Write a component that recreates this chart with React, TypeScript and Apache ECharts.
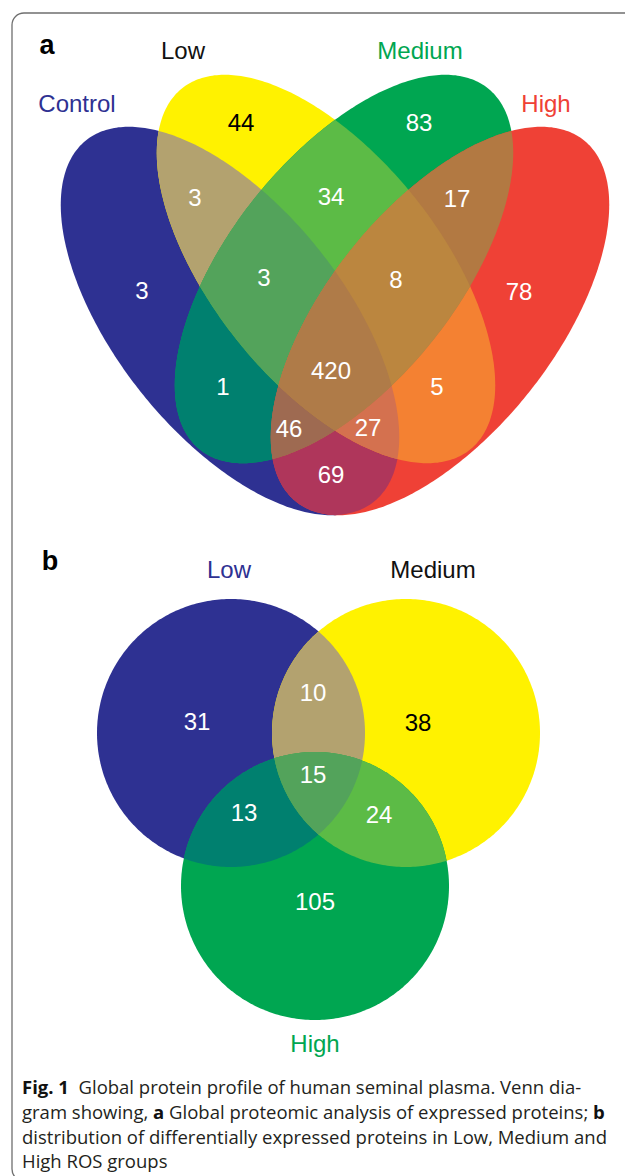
import React, { useEffect, useRef } from "react";
import * as echarts from "echarts";

// ---------- DATA ----------
// Panel a: four-set Venn
const setNamesA = ["Control", "Low", "Medium", "High"];
const regionKeysA = ["C", "L", "M", "H", "CL", "CM", "CH", "LM", "LH", "MH", "CLM", "CLH", "CMH", "LMH", "CLMH"];
const regionCountsA = [3, 44, 83, 78, 3, 1, 69, 34, 5, 17, 3, 27, 46, 8, 420];

// Panel b: three-set Venn
const setNamesB = ["Low", "Medium", "High"];
const regionKeysB = ["L", "M", "H", "LM", "LH", "MH", "LMH"];
const regionCountsB = [31, 38, 105, 10, 13, 24, 15];

const captionLines = [
  "{b|Fig. 1}  Global protein profile of human seminal plasma. Venn dia-",
  "gram showing, {b|a} Global proteomic analysis of expressed proteins; {b|b}",
  "distribution of differentially expressed proteins in Low, Medium and",
  "High ROS groups",
];

// ---------- STYLE / LAYOUT ----------
const regionColor: Record<string, string> = {
  C: "#2E3192", L: "#FFF200", M: "#00A651", H: "#EF4136",
  CL: "#B3A26F", CM: "#00806F", CH: "#AF365B", LM: "#5CBB46", LH: "#F48132", MH: "#B27942",
  CLM: "#53A35B", CLH: "#D4714F", CMH: "#9E6A51", LMH: "#BB863F", CLMH: "#AF7B48",
};
const regionColorB: Record<string, string> = {
  L: "#2E3192", M: "#FFF200", H: "#00A651",
  LM: "#B3A26F", LH: "#00806F", MH: "#5CBB46", LMH: "#53A35B",
};
// ellipses: cx, cy, a, b, rotation(deg)
const ellipsesA: Record<string, number[]> = {
  C: [230, 321, 231, 114, 51.5],
  L: [326, 269, 231, 114, 51.5],
  M: [344, 269, 231, 114, -51.5],
  H: [440, 321, 231, 114, -51.5],
};
const circlesB: Record<string, number[]> = {
  L: [231, 733, 134],
  M: [406, 733, 134],
  H: [315, 886, 134],
};
const labelPosA: Record<string, number[]> = {
  C: [142, 290], L: [241, 122], M: [419, 122], H: [519, 291],
  CL: [195, 197], CM: [223, 386], CH: [331, 474], LM: [331, 196], LH: [437, 386], MH: [457, 198],
  CLM: [264, 277], CLH: [368, 427], CMH: [289, 428], LMH: [396, 279], CLMH: [331, 370],
};
const labelDarkA: Record<string, boolean> = { L: true };
const labelPosB: Record<string, number[]> = {
  L: [197, 721], M: [418, 722], H: [315, 901], LM: [313, 692], LH: [244, 812], MH: [379, 814], LMH: [313, 774],
};
const labelDarkB: Record<string, boolean> = { M: true };
const setLabelA = [
  { x: 77, y: 103, color: "#2E3192" },
  { x: 183, y: 50, color: "#111111" },
  { x: 420, y: 50, color: "#00A651" },
  { x: 546, y: 103, color: "#EF4136" },
];
const setLabelB = [
  { x: 229, y: 569, color: "#2E3192" },
  { x: 433, y: 569, color: "#111111" },
  { x: 315, y: 1043, color: "#00A651" },
];

const FONT = "'Liberation Sans', Arial, sans-serif";

type Pt = number[];

function ellipsePts(cx: number, cy: number, a: number, b: number, deg: number, n = 360): Pt[] {
  const t = (deg * Math.PI) / 180;
  const pts: Pt[] = [];
  for (let i = 0; i < n; i++) {
    const p = (2 * Math.PI * i) / n;
    const x = a * Math.cos(p);
    const y = b * Math.sin(p);
    pts.push([cx + x * Math.cos(t) - y * Math.sin(t), cy + x * Math.sin(t) + y * Math.cos(t)]);
  }
  return pts;
}

function clipConvex(subject: Pt[], clipPoly: Pt[]): Pt[] {
  let area = 0;
  for (let i = 0; i < clipPoly.length; i++) {
    const p = clipPoly[i], q = clipPoly[(i + 1) % clipPoly.length];
    area += p[0] * q[1] - q[0] * p[1];
  }
  const s = Math.sign(area);
  let output = subject;
  for (let i = 0; i < clipPoly.length; i++) {
    if (!output.length) break;
    const A = clipPoly[i], B = clipPoly[(i + 1) % clipPoly.length];
    const side = (p: Pt) => s * ((B[0] - A[0]) * (p[1] - A[1]) - (B[1] - A[1]) * (p[0] - A[0]));
    const input = output;
    output = [];
    for (let j = 0; j < input.length; j++) {
      const cur = input[j];
      const prev = input[(j + input.length - 1) % input.length];
      const sc = side(cur), sp = side(prev);
      const inter = () => {
        const t = sp / (sp - sc);
        return [prev[0] + (cur[0] - prev[0]) * t, prev[1] + (cur[1] - prev[1]) * t];
      };
      if (sc >= 0) {
        if (sp < 0) output.push(inter());
        output.push(cur);
      } else if (sp >= 0) {
        output.push(inter());
      }
    }
  }
  return output;
}

function regionPolys(keys: string[], shapes: Record<string, Pt[]>, colors: Record<string, string>) {
  const order = keys.map((k, i) => ({ k, i })).sort((a, b) => a.k.length - b.k.length || a.i - b.i);
  return order.map(({ k }) => {
    const letters = k.split("");
    let poly = shapes[letters[0]];
    for (let i = 1; i < letters.length; i++) poly = clipConvex(poly, shapes[letters[i]]);
    return {
      type: "polygon",
      shape: { points: poly },
      style: { fill: colors[k], stroke: null },
      silent: true,
    };
  });
}

export default function App() {
  const ref = useRef<HTMLDivElement>(null);
  useEffect(() => {
    if (!ref.current) return;
    const chart = echarts.init(ref.current, undefined, { renderer: "svg" });

    const shapesA: Record<string, Pt[]> = {};
    Object.keys(ellipsesA).forEach((k) => {
      const e = ellipsesA[k];
      shapesA[k] = ellipsePts(e[0], e[1], e[2], e[3], e[4]);
    });
    const shapesB: Record<string, Pt[]> = {};
    Object.keys(circlesB).forEach((k) => {
      const c = circlesB[k];
      shapesB[k] = ellipsePts(c[0], c[1], c[2], c[2], 0);
    });

    const elements: any[] = [];
    elements.push({
      type: "rect",
      shape: { x: 12, y: 13, width: 700, height: 1168, r: 12 },
      style: { fill: "none", stroke: "#6f6f6f", lineWidth: 1.3 },
      silent: true,
    });
    elements.push(...regionPolys(regionKeysA, shapesA, regionColor));
    elements.push(...regionPolys(regionKeysB, shapesB, regionColorB));

    regionKeysA.forEach((k, i) => {
      const p = labelPosA[k];
      elements.push({
        type: "text", x: p[0], y: p[1], silent: true,
        style: { text: String(regionCountsA[i]), fill: labelDarkA[k] ? "#000" : "#fff", font: `24px ${FONT}`, align: "center", verticalAlign: "middle" },
      });
    });
    regionKeysB.forEach((k, i) => {
      const p = labelPosB[k];
      elements.push({
        type: "text", x: p[0], y: p[1], silent: true,
        style: { text: String(regionCountsB[i]), fill: labelDarkB[k] ? "#000" : "#fff", font: `24px ${FONT}`, align: "center", verticalAlign: "middle" },
      });
    });
    setNamesA.forEach((n, i) => {
      const l = setLabelA[i];
      elements.push({
        type: "text", x: l.x, y: l.y, silent: true,
        style: { text: n, fill: l.color, font: `24px ${FONT}`, align: "center", verticalAlign: "middle" },
      });
    });
    setNamesB.forEach((n, i) => {
      const l = setLabelB[i];
      elements.push({
        type: "text", x: l.x, y: l.y, silent: true,
        style: { text: n, fill: l.color, font: `24px ${FONT}`, align: "center", verticalAlign: "middle" },
      });
    });
    elements.push({
      type: "text", x: 47, y: 45, silent: true,
      style: { text: "a", fill: "#000", font: `bold 27px ${FONT}`, align: "center", verticalAlign: "middle" },
    });
    elements.push({
      type: "text", x: 50, y: 561, silent: true,
      style: { text: "b", fill: "#000", font: `bold 27px ${FONT}`, align: "center", verticalAlign: "middle" },
    });
    const capY = [1086, 1111, 1136, 1160];
    captionLines.forEach((line, i) => {
      elements.push({
        type: "text", x: 22, y: capY[i], silent: true,
        style: {
          text: line, fill: "#231F20", fontFamily: "'Open Sans', sans-serif", fontSize: 18.5,
          align: "left", verticalAlign: "middle",
          rich: { b: { fontWeight: "bold", fontFamily: "'Open Sans', sans-serif", fontSize: 18.5, fill: "#111" } },
        },
      });
    });

    chart.setOption({ animation: false, backgroundColor: "#fff", graphic: { elements } });
    return () => chart.dispose();
  }, []);
  return <div ref={ref} style={{ position: "absolute", left: 0, top: 0, width: 625, height: 1176 }} />;
}
